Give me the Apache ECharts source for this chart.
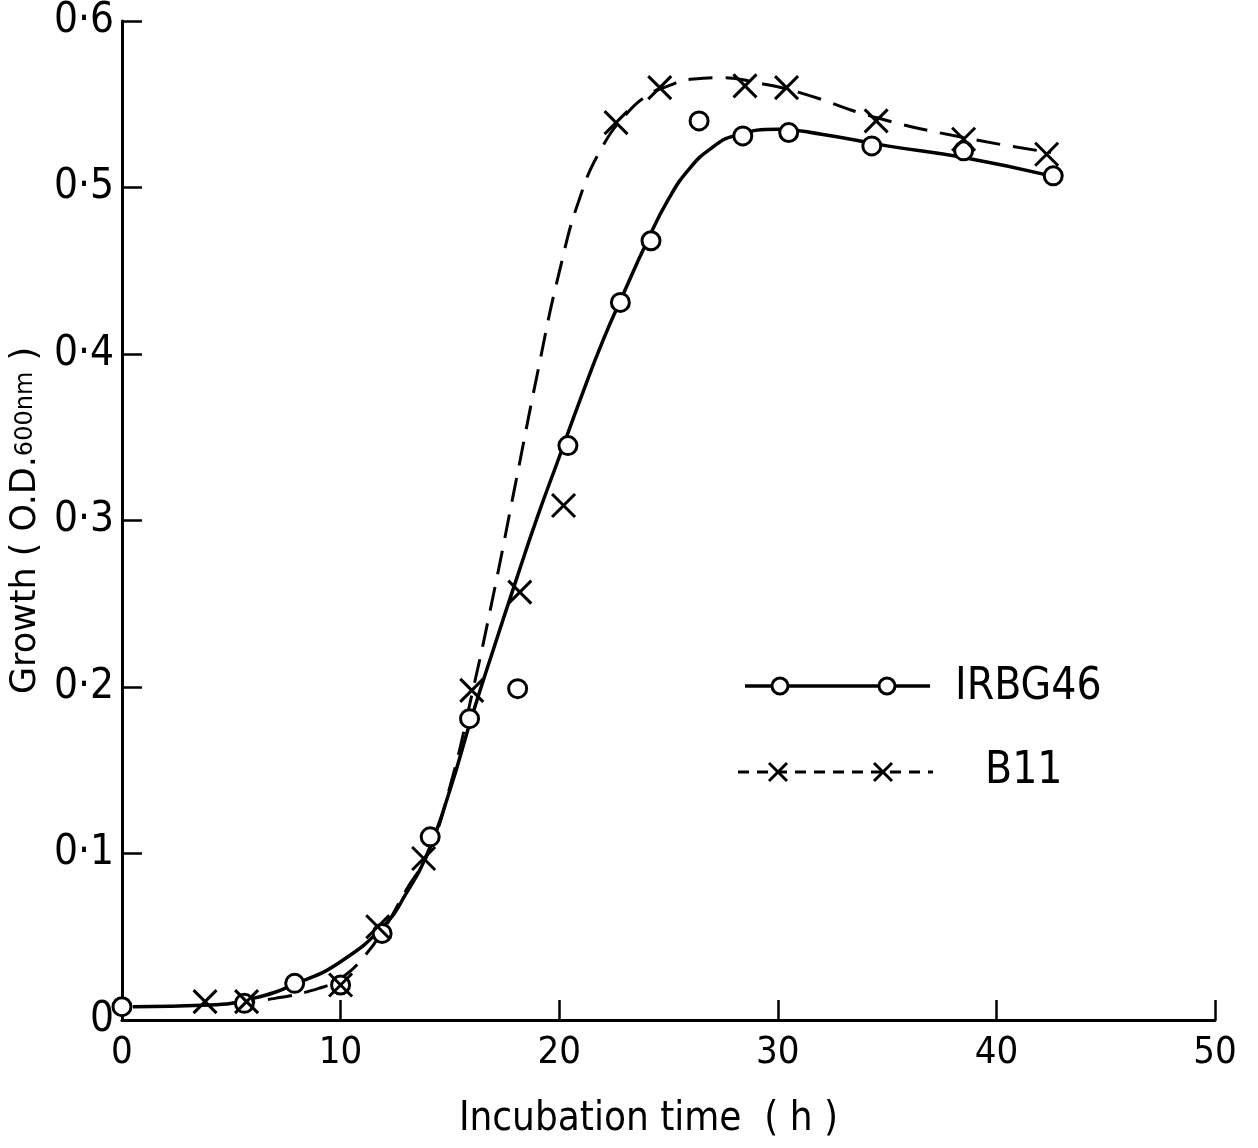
<!DOCTYPE html>
<html>
<head>
<meta charset="utf-8">
<script src="https://cdn.jsdelivr.net/npm/echarts@6/dist/echarts.min.js"></script>
<style>
  html, body { margin: 0; padding: 0; background: #fff; }
  #chart { width: 1258px; height: 1148px; }
</style>
</head>
<body>
<div id="chart"></div>
<script>
// measured points (time in h, O.D. 600nm)
const irbgTime = [0, 5.6, 7.9, 10.0, 11.9, 14.1, 15.9, 18.1, 20.4, 22.8, 24.2, 26.4, 28.4, 30.5, 34.3, 38.5, 42.6];
const irbgOD = [0.008, 0.010, 0.022, 0.021, 0.052, 0.110, 0.181, 0.199, 0.345, 0.431, 0.468, 0.540, 0.531, 0.533, 0.525, 0.522, 0.507];

const b11Time = [3.8, 5.7, 10.0, 11.7, 13.8, 16.0, 18.2, 20.2, 22.6, 24.6, 28.5, 30.4, 34.5, 38.5, 42.3];
const b11OD = [0.011, 0.011, 0.021, 0.056, 0.097, 0.198, 0.257, 0.309, 0.539, 0.560, 0.561, 0.560, 0.540, 0.529, 0.520];

// hand-drawn growth curves
const irbgFitTime = [0.5, 4, 6, 8, 10, 12, 13, 14, 15, 16, 17, 18, 19, 20, 21, 22, 23, 24, 25, 26, 27, 28, 30, 32, 35, 38.5, 42.5];
const irbgFitOD = [0.008, 0.009, 0.013, 0.022, 0.035, 0.057, 0.076, 0.101, 0.138, 0.182, 0.223, 0.263, 0.302, 0.338, 0.374, 0.408, 0.438, 0.467, 0.493, 0.512, 0.524, 0.531, 0.535, 0.532, 0.525, 0.518, 0.507];

const b11FitTime = [5, 7, 9, 10, 11, 12, 13, 14, 15, 16, 17, 18, 19, 20, 21, 22, 23, 24, 25, 26, 27.5, 29, 31, 34.5, 38.5, 42.5];
const b11FitOD = [0.010, 0.013, 0.019, 0.025, 0.037, 0.055, 0.078, 0.100, 0.140, 0.195, 0.256, 0.322, 0.388, 0.449, 0.496, 0.525, 0.543, 0.555, 0.561, 0.565, 0.566, 0.563, 0.557, 0.542, 0.530, 0.521];

const xTicks = [0, 10, 20, 30, 40, 50];
const yTicks = [0, 0.1, 0.2, 0.3, 0.4, 0.5, 0.6];

const FONT = "'Liberation Sans Narrow', 'DejaVu Sans Condensed', sans-serif";
const zip = (xs, ys) => xs.map((x, i) => [x, ys[i]]);
const crossPath = 'path://M0,0L10,10M10,0L0,10';

const chart = echarts.init(document.getElementById('chart'));

chart.setOption({
    animation: false,
    backgroundColor: '#fff',
    grid: { left: 118, right: 43, top: 21, bottom: 128, containLabel: false },
    xAxis: {
        type: 'value',
        min: xTicks[0],
        max: xTicks[xTicks.length - 1],
        interval: 10,
        name: 'Incubation time  ( h )',
        nameLocation: 'middle',
        nameGap: 80,
        nameTextStyle: { fontFamily: FONT, fontSize: 40, color: '#000', padding: [0, 40, 0, 0] },
        axisLine: { lineStyle: { color: '#000', width: 3 } },
        axisTick: { inside: true, length: 20, lineStyle: { color: '#000', width: 2.5 } },
        axisLabel: { fontFamily: FONT, fontSize: 38, color: '#000', margin: 14 },
        splitLine: { show: false }
    },
    yAxis: {
        type: 'value',
        min: yTicks[0],
        max: yTicks[yTicks.length - 1],
        interval: 0.1,
        name: '{a|Growth ( O.D.}{b|600nm}{a| )}',
        nameLocation: 'middle',
        nameRotate: 90,
        nameGap: 70,
        nameTextStyle: {
            rich: {
                a: { fontFamily: "'DejaVu Sans', sans-serif", fontSize: 35, color: '#000' },
                b: { fontFamily: "'DejaVu Sans', sans-serif", fontSize: 24, color: '#000' }
            }
        },
        axisLine: { lineStyle: { color: '#000', width: 3 } },
        axisTick: { inside: true, length: 20, lineStyle: { color: '#000', width: 2.5 } },
        axisLabel: {
            fontFamily: FONT, fontSize: 42, color: '#000', margin: 8,
            formatter: v => v === 0 ? '0' : v.toFixed(1).replace('.', '\u00b7')
        },
        splitLine: { show: false }
    },
    series: [
        {
            name: 'IRBG46 curve',
            type: 'line',
            data: zip(irbgFitTime, irbgFitOD),
            smooth: 0.5,
            showSymbol: false,
            lineStyle: { color: '#000', width: 3.5 },
            z: 2
        },
        {
            name: 'B11 curve',
            type: 'line',
            data: zip(b11FitTime, b11FitOD),
            smooth: 0.5,
            showSymbol: false,
            lineStyle: { color: '#000', width: 3, type: [24, 13] },
            z: 2
        },
        {
            name: 'IRBG46',
            type: 'scatter',
            data: zip(irbgTime, irbgOD),
            symbol: 'circle',
            symbolSize: 18,
            itemStyle: { color: '#fff', borderColor: '#000', borderWidth: 3, opacity: 1 },
            z: 3
        },
        {
            name: 'B11',
            type: 'scatter',
            data: zip(b11Time, b11OD),
            symbol: crossPath,
            symbolSize: 23,
            itemStyle: { color: 'none', borderColor: '#000', borderWidth: 3, opacity: 1 },
            z: 4
        }
    ],
    graphic: [
        { type: 'line', shape: { x1: 745, y1: 686, x2: 930, y2: 686 }, style: { stroke: '#000', lineWidth: 3.5 } },
        { type: 'circle', shape: { cx: 780, cy: 686, r: 8 }, style: { fill: '#fff', stroke: '#000', lineWidth: 3 } },
        { type: 'circle', shape: { cx: 887, cy: 686, r: 8 }, style: { fill: '#fff', stroke: '#000', lineWidth: 3 } },
        { type: 'text', x: 955, y: 688, style: { text: 'IRBG46', fontFamily: FONT, fontSize: 44, fill: '#000', verticalAlign: 'middle' } },

        { type: 'line', shape: { x1: 738, y1: 772, x2: 933, y2: 772 }, style: { stroke: '#000', lineWidth: 3, lineDash: [11, 8] } },
        { type: 'line', shape: { x1: 769, y1: 763, x2: 787, y2: 781 }, style: { stroke: '#000', lineWidth: 3 } },
        { type: 'line', shape: { x1: 787, y1: 763, x2: 769, y2: 781 }, style: { stroke: '#000', lineWidth: 3 } },
        { type: 'line', shape: { x1: 874, y1: 763, x2: 892, y2: 781 }, style: { stroke: '#000', lineWidth: 3 } },
        { type: 'line', shape: { x1: 892, y1: 763, x2: 874, y2: 781 }, style: { stroke: '#000', lineWidth: 3 } },
        { type: 'text', x: 985, y: 772, style: { text: 'B11', fontFamily: FONT, fontSize: 44, fill: '#000', verticalAlign: 'middle' } }
    ]
});

window.addEventListener('resize', () => chart.resize());
</script>
</body>
</html>
